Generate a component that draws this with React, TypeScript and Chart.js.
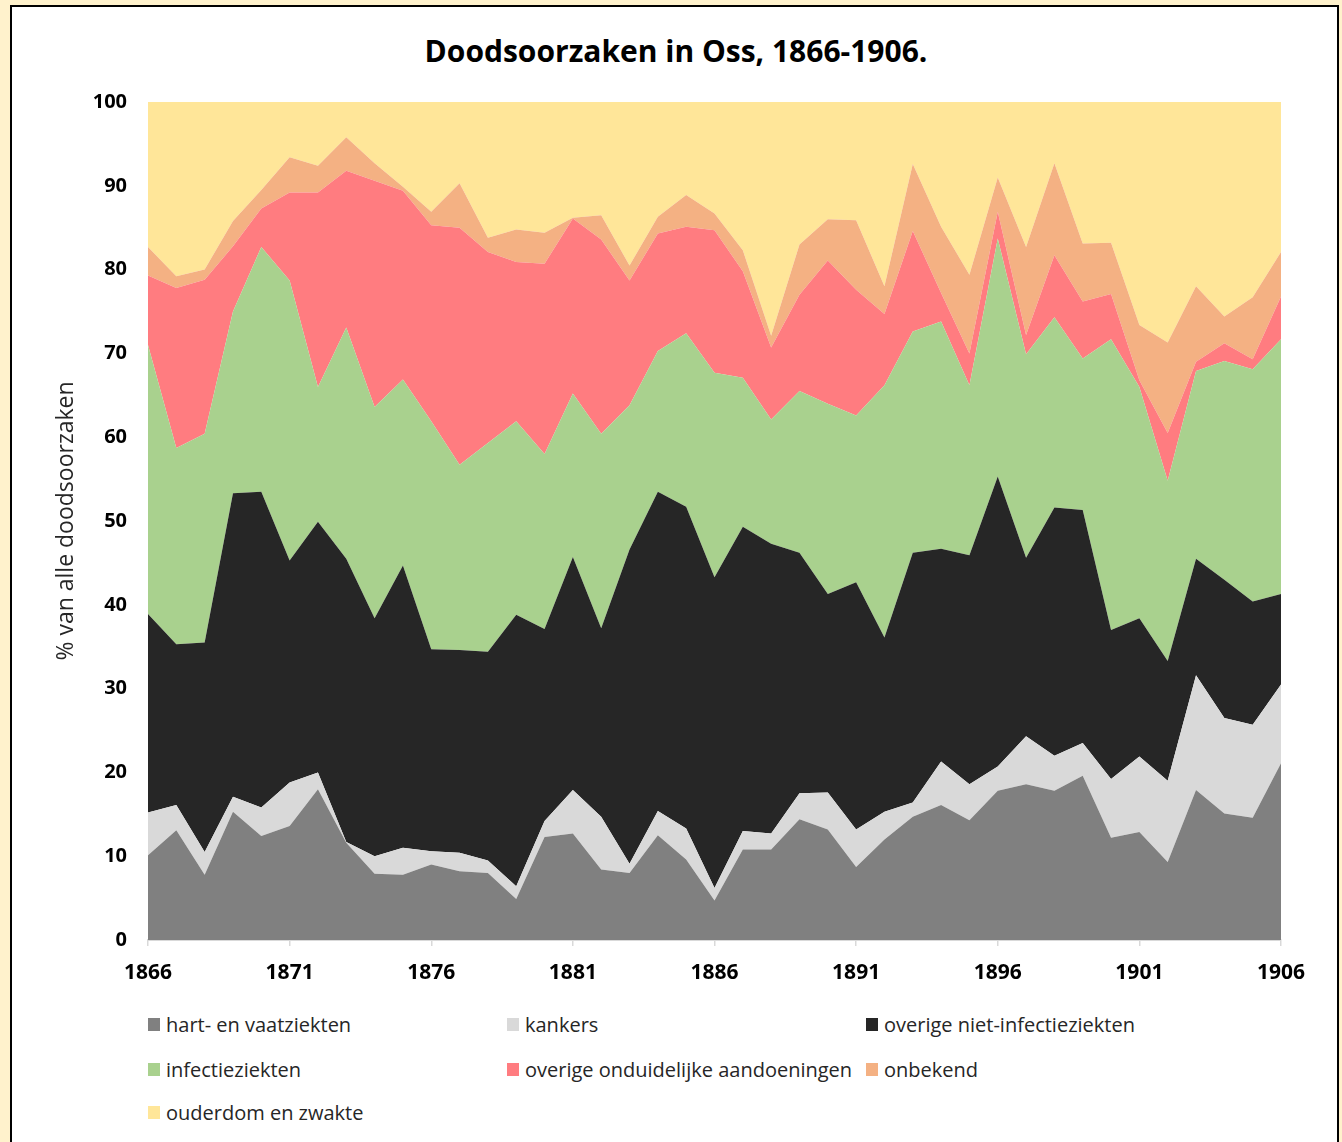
import React, { useEffect, useRef } from "react";
import { Chart, registerables } from "chart.js";

Chart.register(...registerables);

const years: number[] = [
  1866, 1867, 1868, 1869, 1870, 1871, 1872, 1873, 1874, 1875,
  1876, 1877, 1878, 1879, 1880, 1881, 1882, 1883, 1884, 1885,
  1886, 1887, 1888, 1889, 1890, 1891, 1892, 1893, 1894, 1895,
  1896, 1897, 1898, 1899, 1900, 1901, 1902, 1903, 1904, 1905, 1906,
];

const xTickYears: number[] = [1866, 1871, 1876, 1881, 1886, 1891, 1896, 1901, 1906];

const hartVaat: number[] = [
  10.1, 13.1, 7.8, 15.3, 12.4, 13.6, 18.0, 11.6, 7.9, 7.8,
  9.0, 8.2, 8.0, 4.9, 12.3, 12.7, 8.4, 8.0, 12.5, 9.6,
  4.7, 10.8, 10.8, 14.4, 13.2, 8.7, 12.0, 14.7, 16.1, 14.3,
  17.8, 18.6, 17.8, 19.6, 12.2, 12.9, 9.3, 17.9, 15.1, 14.6, 21.1,
];

const kankers: number[] = [
  5.1, 3.0, 2.7, 1.8, 3.4, 5.2, 2.0, 0.1, 2.1, 3.2,
  1.6, 2.2, 1.5, 1.5, 1.9, 5.2, 6.3, 1.1, 2.9, 3.7,
  1.5, 2.2, 1.9, 3.1, 4.4, 4.5, 3.3, 1.7, 5.2, 4.3,
  2.9, 5.7, 4.2, 3.9, 7.0, 9.0, 9.7, 13.7, 11.4, 11.1, 9.4,
];

const overigeNietInfectie: number[] = [
  23.7, 19.2, 25.0, 36.2, 37.7, 26.5, 29.9, 33.8, 28.4, 33.7,
  24.1, 24.2, 24.9, 32.4, 22.9, 27.8, 22.5, 37.5, 38.1, 38.4,
  37.1, 36.3, 34.6, 28.7, 23.7, 29.5, 20.8, 29.8, 25.4, 27.3,
  34.6, 21.3, 29.6, 27.8, 17.8, 16.5, 14.3, 13.9, 16.5, 14.7, 10.8,
];

const infectie: number[] = [
  32.1, 23.4, 24.9, 21.7, 29.2, 33.4, 16.1, 27.6, 25.2, 22.2,
  27.2, 22.1, 24.9, 23.1, 20.9, 19.5, 23.2, 17.2, 16.8, 20.7,
  24.4, 17.8, 14.8, 19.3, 22.7, 19.9, 30.1, 26.4, 27.1, 20.3,
  28.4, 24.3, 22.7, 18.1, 34.7, 27.6, 21.5, 22.4, 26.1, 27.7, 30.4,
];

const onduidelijk: number[] = [
  8.3, 19.1, 18.4, 7.8, 4.6, 10.5, 23.2, 18.7, 27.0, 22.5,
  23.4, 28.3, 22.8, 19.0, 22.7, 20.9, 23.2, 14.9, 14.0, 12.7,
  17.0, 12.7, 8.6, 11.5, 17.1, 15.0, 8.5, 12.0, 3.4, 3.8,
  3.2, 2.3, 7.4, 6.8, 5.4, 0.8, 5.7, 1.1, 2.1, 1.2, 5.1,
];

const onbekend: number[] = [
  3.4, 1.4, 1.2, 3.0, 2.2, 4.2, 3.2, 4.0, 2.1, 0.5,
  1.6, 5.3, 1.7, 3.9, 3.7, 0.1, 2.9, 1.8, 2.0, 3.8,
  2.0, 2.5, 1.4, 6.0, 4.9, 8.3, 3.3, 8.0, 7.9, 9.4,
  4.1, 10.5, 11.0, 6.9, 6.1, 6.6, 10.8, 9.0, 3.2, 7.4, 5.3,
];

const ouderdom: number[] = [
  17.3, 20.8, 20.0, 14.2, 10.5, 6.6, 7.6, 4.2, 7.3, 10.1,
  13.1, 9.7, 16.2, 15.2, 15.6, 13.8, 13.5, 19.5, 13.7, 11.1,
  13.3, 17.7, 27.9, 17.0, 14.0, 14.1, 22.0, 7.4, 14.9, 20.6,
  9.0, 17.3, 7.3, 16.9, 16.8, 26.6, 28.7, 22.0, 25.6, 23.3, 17.9,
];

const seriesLabels: string[] = [
  "hart- en vaatziekten",
  "kankers",
  "overige niet-infectieziekten",
  "infectieziekten",
  "overige onduidelijke aandoeningen",
  "onbekend",
  "ouderdom en zwakte",
];

const seriesColors: string[] = [
  "#808080",
  "#d9d9d9",
  "#262626",
  "#a9d18e",
  "#ff7c80",
  "#f4b183",
  "#ffe699",
];

const seriesData: number[][] = [
  hartVaat,
  kankers,
  overigeNietInfectie,
  infectie,
  onduidelijk,
  onbekend,
  ouderdom,
];

const titleText = "Doodsoorzaken in Oss, 1866-1906.";
const yTitle = "% van alle doodsoorzaken";
const FONT = "'Open Sans', 'Noto Sans', sans-serif";

export default function App() {
  const canvasRef = useRef<HTMLCanvasElement | null>(null);

  useEffect(() => {
    const canvas = canvasRef.current;
    if (!canvas) return;
    const chart = new Chart(canvas, {
      type: "line",
      data: {
        labels: years,
        datasets: seriesData.map((d, i) => ({
          label: seriesLabels[i],
          data: d,
          backgroundColor: seriesColors[i],
          borderColor: seriesColors[i],
          borderWidth: 0,
          pointRadius: 0,
          pointHoverRadius: 0,
          tension: 0,
          fill: i === 0 ? "origin" : "-1",
        })),
      },
      options: {
        responsive: false,
        animation: false,
        devicePixelRatio: 1,
        layout: { padding: { top: 102, right: 61, left: 0, bottom: 0 } },
        plugins: {
          legend: { display: false },
          title: { display: false },
          tooltip: { enabled: false },
        },
        scales: {
          x: {
            type: "linear",
            min: 1866,
            max: 1906,
            afterBuildTicks: (scale: any) => {
              scale.ticks = xTickYears.map((v) => ({ value: v }));
            },
            afterFit: (scale: any) => {
              scale.height = 60;
            },
            grid: {
              display: true,
              drawOnChartArea: false,
              drawTicks: true,
              tickLength: 6,
              color: "#d9d9d9",
              lineWidth: 1.5,
            },
            border: { display: true, color: "#d9d9d9", width: 2 },
            ticks: {
              autoSkip: false,
              maxRotation: 0,
              padding: 14,
              color: "#000000",
              font: { family: FONT, size: 21, weight: "bold" },
              callback: (v: any) => String(v),
            },
          },
          y: {
            stacked: true,
            min: 0,
            max: 100,
            afterFit: (scale: any) => {
              scale.width = 148;
            },
            grid: { display: false, drawTicks: false },
            border: { display: false },
            ticks: {
              stepSize: 10,
              padding: 21,
              color: "#000000",
              font: { family: FONT, size: 20, weight: "bold" },
            },
            title: {
              display: true,
              text: yTitle,
              color: "#262626",
              padding: { top: 53, bottom: 0 },
              font: { family: FONT, size: 23, weight: "normal" },
            },
          },
        },
      },
    });
    return () => chart.destroy();
  }, []);

  const legendCols = [148, 507, 866];
  const legendRows = [1024, 1069, 1112];

  return (
    <div
      style={{
        position: "fixed",
        left: 0,
        top: 0,
        width: 1342,
        height: 1142,
        background: "#fff2cc",
        overflow: "hidden",
      }}
    >
      <div
        style={{
          position: "absolute",
          left: 10,
          top: 5,
          width: 1325,
          height: 1160,
          background: "#ffffff",
          border: "2px solid #000000",
        }}
      />
      <div
        style={{
          position: "absolute",
          left: 0,
          top: 30,
          width: 1352,
          textAlign: "center",
          fontFamily: FONT,
          fontWeight: 700,
          fontSize: 30,
          lineHeight: "42px",
          color: "#000000",
        }}
      >
        {titleText}
      </div>
      <canvas
        ref={canvasRef}
        width={1342}
        height={1000}
        style={{ position: "absolute", left: 0, top: 0, width: 1342, height: 1000 }}
      />
      {seriesLabels.map((lab, i) => {
        const col = i % 3;
        const row = Math.floor(i / 3);
        return (
          <div
            key={lab}
            style={{
              position: "absolute",
              left: legendCols[col],
              top: legendRows[row] - 14,
              height: 28,
              display: "flex",
              alignItems: "center",
              fontFamily: FONT,
              fontSize: 20,
              color: "#262626",
              whiteSpace: "nowrap",
            }}
          >
            <span
              style={{
                display: "inline-block",
                width: 12,
                height: 13,
                background: seriesColors[i],
                marginRight: 6,
              }}
            />
            {lab}
          </div>
        );
      })}
    </div>
  );
}
